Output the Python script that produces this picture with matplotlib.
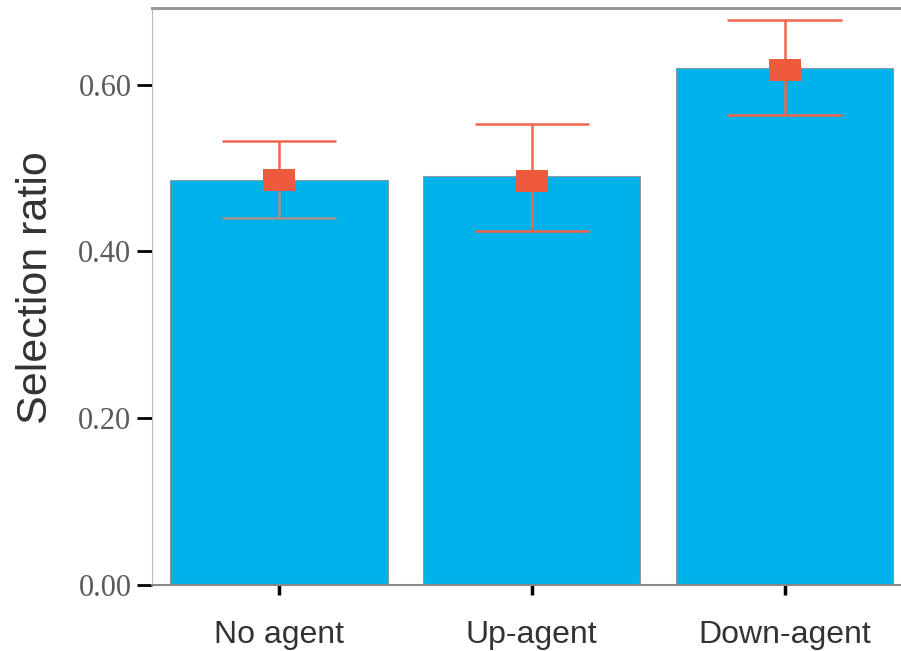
import numpy as np
import matplotlib
matplotlib.use("Agg")
import matplotlib.pyplot as plt

# data
groups = ["No agent", "Up-agent", "Down-agent"]
bar_vals = [0.486, 0.490, 0.620]
means = [0.486, 0.484, 0.618]
upper = [0.532, 0.553, 0.677]
lower = [0.440, 0.425, 0.563]
yticks = [0.00, 0.20, 0.40, 0.60]

bar_col = "#00b2ea"
err_col = "#f0664a"
mark_col = "#ee5a3c"
low_cols = ["#a8908a", err_col, err_col]

fig = plt.figure(figsize=(9.01, 6.51), dpi=100)
ax = fig.add_axes([0.169, 0.101, 0.831, 0.887])

x = np.arange(len(groups))
ax.bar(x, bar_vals, width=0.86, color=bar_col, edgecolor="#8a9aa0", linewidth=0.8, zorder=2)

cap = 0.226
for i in range(len(groups)):
    # upper whisker + cap
    ax.vlines(x[i], means[i], upper[i], color=err_col, linewidth=1.8, zorder=3)
    ax.hlines(upper[i], x[i] - cap, x[i] + cap, color=err_col, linewidth=1.8, zorder=3)
    # lower whisker + cap
    ax.vlines(x[i], lower[i], means[i], color=low_cols[i], linewidth=1.8, zorder=3)
    ax.hlines(lower[i], x[i] - cap, x[i] + cap, color=low_cols[i], linewidth=1.8, zorder=3)

rect = [(-1.4, -1), (1.4, -1), (1.4, 1), (-1.4, 1), (-1.4, -1)]
ax.plot(x, means, linestyle="none", marker=rect, markersize=23,
        color=mark_col, markeredgewidth=0, zorder=4)

ax.set_xlim(-0.5, 2.46)
ax.set_ylim(0, 0.692)
ax.set_xticks(x)
ax.set_xticklabels(groups, fontfamily="Liberation Sans", fontsize=23, color="#333333")
ax.set_yticks(yticks)
ax.set_yticklabels([f"{v:.2f}" for v in yticks], fontfamily="Liberation Serif",
                   fontsize=22, color="#5a5a5a")
ax.tick_params(axis="y", length=11, width=2, color="black", pad=4)
ax.tick_params(axis="x", length=7, width=2.5, color="black", pad=18)
ax.set_ylabel("Selection ratio", fontfamily="Liberation Sans", fontsize=31,
              color="#333333")
ax.yaxis.set_label_coords(-0.128, 0.516)

ax.spines["right"].set_visible(False)
ax.spines["top"].set_color("#999999")
ax.spines["top"].set_linewidth(2.2)
ax.spines["left"].set_color("#bbbbbb")
ax.spines["left"].set_linewidth(0.8)
ax.spines["bottom"].set_color("#888888")
ax.spines["bottom"].set_linewidth(1.5)

fig.savefig("out.png", dpi=100)
